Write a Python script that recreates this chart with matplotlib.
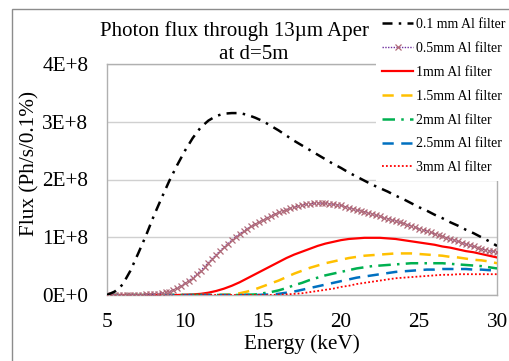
import numpy as np
import matplotlib
matplotlib.use("Agg")
import matplotlib.pyplot as plt
from matplotlib.patches import Rectangle

# ---------------- data ----------------
energy = [5.0, 5.5, 6.0, 6.5, 7.0, 7.5, 8.0, 8.5, 9.0, 9.5, 10.0, 10.5, 11.0, 11.5, 12.0,
          12.5, 13.0, 13.5, 14.0, 14.5, 15.0, 15.5, 16.0, 16.5, 17.0, 17.5, 18.0, 18.5, 19.0,
          19.5, 20.0, 20.5, 21.0, 21.5, 22.0, 22.5, 23.0, 23.5, 24.0, 24.5, 25.0, 25.5, 26.0,
          26.5, 27.0, 27.5, 28.0, 28.5, 29.0, 29.5, 30.0]

# flux in units of 1E+8 Ph/s/0.1%
al_0p1 = [0.0, 0.06, 0.18, 0.42, 0.72, 1.03, 1.37, 1.68, 1.98, 2.25, 2.5, 2.72, 2.9, 3.02, 3.1,
          3.14, 3.15, 3.15, 3.12, 3.07, 3.01, 2.93, 2.85, 2.76, 2.67, 2.59, 2.51, 2.43, 2.35,
          2.27, 2.2, 2.12, 2.05, 1.98, 1.91, 1.85, 1.79, 1.72, 1.66, 1.59, 1.52, 1.46, 1.39,
          1.33, 1.26, 1.2, 1.13, 1.07, 1.0, 0.93, 0.85]

energy_fine = [5.0, 5.25, 5.5, 5.75, 6.0, 6.25, 6.5, 6.75, 7.0, 7.25, 7.5, 7.75, 8.0, 8.25, 8.5,
               8.75, 9.0, 9.25, 9.5, 9.75, 10.0, 10.25, 10.5, 10.75, 11.0, 11.25, 11.5, 11.75,
               12.0, 12.25, 12.5, 12.75, 13.0, 13.25, 13.5, 13.75, 14.0, 14.25, 14.5, 14.75,
               15.0, 15.25, 15.5, 15.75, 16.0, 16.25, 16.5, 16.75, 17.0, 17.25, 17.5, 17.75,
               18.0, 18.25, 18.5, 18.75, 19.0, 19.25, 19.5, 19.75, 20.0, 20.25, 20.5, 20.75,
               21.0, 21.25, 21.5, 21.75, 22.0, 22.25, 22.5, 22.75, 23.0, 23.25, 23.5, 23.75,
               24.0, 24.25, 24.5, 24.75, 25.0, 25.25, 25.5, 25.75, 26.0, 26.25, 26.5, 26.75,
               27.0, 27.25, 27.5, 27.75, 28.0, 28.25, 28.5, 28.75, 29.0, 29.25, 29.5, 29.75, 30.0]
al_0p5 = [0, 0, 0, 0, 0, 0, 0, 0.003, 0.005, 0.007, 0.01, 0.015, 0.02, 0.025, 0.03,
          0.045, 0.06, 0.09, 0.12, 0.16, 0.2, 0.25, 0.3, 0.36, 0.42, 0.49, 0.56, 0.63,
          0.7, 0.765, 0.83, 0.89, 0.95, 1.005, 1.06, 1.105, 1.15, 1.19, 1.23, 1.265,
          1.3, 1.335, 1.37, 1.4, 1.43, 1.455, 1.48, 1.5, 1.52, 1.54, 1.56, 1.57,
          1.58, 1.585, 1.59, 1.59, 1.59, 1.58, 1.57, 1.56, 1.55, 1.53, 1.51, 1.49,
          1.47, 1.455, 1.44, 1.42, 1.4, 1.38, 1.36, 1.34, 1.32, 1.3, 1.28, 1.26,
          1.24, 1.22, 1.2, 1.175, 1.15, 1.13, 1.11, 1.085, 1.06, 1.04, 1.02, 0.995,
          0.97, 0.95, 0.93, 0.905, 0.88, 0.86, 0.84, 0.82, 0.8, 0.785, 0.77, 0.755, 0.74]

al_1p0 = [0, 0, 0, 0, 0, 0, 0, 0, 0, 0, 0.005, 0.01, 0.02, 0.04, 0.07,
          0.11, 0.16, 0.22, 0.29, 0.36, 0.43, 0.5, 0.57, 0.64, 0.7, 0.75, 0.8, 0.85, 0.89,
          0.92, 0.95, 0.97, 0.98, 0.99, 0.99, 0.99, 0.98, 0.97, 0.95, 0.93, 0.91, 0.89, 0.87,
          0.84, 0.82, 0.79, 0.76, 0.74, 0.71, 0.68, 0.65]
al_1p5 = [0, 0, 0, 0, 0, 0, 0, 0, 0, 0, 0, 0, 0, 0, 0,
          0.005, 0.01, 0.03, 0.06, 0.1, 0.15, 0.2, 0.25, 0.31, 0.37, 0.42, 0.47, 0.51, 0.55,
          0.58, 0.61, 0.64, 0.66, 0.68, 0.69, 0.7, 0.71, 0.72, 0.72, 0.72, 0.71, 0.7, 0.69,
          0.68, 0.66, 0.65, 0.63, 0.61, 0.6, 0.58, 0.55]
al_2p0 = [0, 0, 0, 0, 0, 0, 0, 0, 0, 0, 0, 0, 0, 0, 0,
          0, 0, 0, 0.005, 0.01, 0.03, 0.05, 0.08, 0.12, 0.17, 0.21, 0.26, 0.3, 0.34,
          0.37, 0.4, 0.43, 0.46, 0.48, 0.5, 0.51, 0.52, 0.53, 0.54, 0.55, 0.55, 0.55, 0.55,
          0.55, 0.54, 0.53, 0.52, 0.51, 0.5, 0.48, 0.46]
al_2p5 = [0, 0, 0, 0, 0, 0, 0, 0, 0, 0, 0, 0, 0, 0, 0,
          0, 0, 0, 0, 0, 0.005, 0.01, 0.02, 0.04, 0.06, 0.09, 0.12, 0.15, 0.18,
          0.21, 0.24, 0.27, 0.3, 0.32, 0.34, 0.36, 0.38, 0.4, 0.41, 0.42, 0.43, 0.44, 0.44,
          0.45, 0.45, 0.45, 0.45, 0.44, 0.44, 0.43, 0.42]
al_3p0 = [0, 0, 0, 0, 0, 0, 0, 0, 0, 0, 0, 0, 0, 0, 0,
          0, 0, 0, 0, 0, 0, 0, 0.005, 0.01, 0.02, 0.03, 0.05, 0.07, 0.09,
          0.11, 0.14, 0.16, 0.19, 0.21, 0.23, 0.25, 0.27, 0.29, 0.3, 0.31, 0.32, 0.33, 0.34,
          0.35, 0.35, 0.36, 0.36, 0.36, 0.36, 0.36, 0.36]

labels = ["0.1 mm Al filter", "0.5mm Al filter", "1mm Al filter", "1.5mm Al filter",
          "2mm Al filter", "2.5mm Al filter", "3mm Al filter"]

x_ticks = [5, 10, 15, 20, 25, 30]
y_ticks = [0, 1e8, 2e8, 3e8, 4e8]
y_tick_labels = ["0E+0", "1E+8", "2E+8", "3E+8", "4E+8"]

title_line1 = "Photon flux through 13\u00b5m Aper"
title_line2 = "at d=5m"
x_label = "Energy (keV)"
y_label = "Flux (Ph/s/0.1%)"

# ---------------- figure ----------------
plt.rcParams['font.family'] = ['Liberation Serif', 'DejaVu Serif']
W, H = 509, 361
fig = plt.figure(figsize=(W / 100, H / 100), dpi=100)
fig.patch.set_facecolor('white')

# outer chart-area frame
fig.patches.append(Rectangle((12 / W, -0.2), 1.5, 1 - 9 / H + 0.2, transform=fig.transFigure,
                             fill=False, edgecolor='#8c8c8c', linewidth=1.0, zorder=0))

ax = fig.add_axes([107 / W, 1 - 295 / H, (497 - 107) / W, (295 - 64) / H])
scale = 1e8
e = np.array(energy)
ef = np.array(energy_fine)

ax.plot(e, np.array(al_0p1) * scale, color='black', lw=1.8,
        dashes=(4, 2.5, 1, 2.5), label=labels[0], zorder=5)
ax.plot(ef, np.array(al_0p5) * scale, color='#7030a0', lw=1.0, ls=(0, (1, 1)),
        marker='x', markersize=4, markeredgewidth=0.9, markeredgecolor='#b06a78',
        label=labels[1], zorder=4)
ax.plot(e, np.array(al_1p0) * scale, color='#ff0000', lw=1.6, label=labels[2], zorder=3)
ax.plot(e, np.array(al_1p5) * scale, color='#ffc000', lw=1.8, dashes=(4.5, 3),
        label=labels[3], zorder=3)
ax.plot(e, np.array(al_2p0) * scale, color='#00b050', lw=1.8, dashes=(5, 2.5, 1, 2.5),
        label=labels[4], zorder=3)
ax.plot(e, np.array(al_2p5) * scale, color='#0070c0', lw=1.8, dashes=(4.5, 3),
        label=labels[5], zorder=3)
ax.plot(e, np.array(al_3p0) * scale, color='#ff0000', lw=1.3, ls=(0, (1, 1.2)),
        label=labels[6], zorder=3)

ax.set_xlim(5, 30)
ax.set_ylim(0, 4e8)
ax.set_xticks(x_ticks)
ax.set_xticklabels([str(t) for t in x_ticks])
ax.set_yticks(y_ticks)
ax.set_yticklabels(y_tick_labels)
ax.tick_params(axis='both', length=0, labelsize=15.3, colors='black')
ax.tick_params(axis='y', pad=13.5)
ax.tick_params(axis='x', pad=13)
ax.grid(axis='y', color='#d0d0d0', lw=1.0)
ax.set_axisbelow(True)
for s in ax.spines.values():
    s.set_color('#b0b0b0')
    s.set_linewidth(1.0)

ax.set_xlabel(x_label, fontsize=15.3)
ax.xaxis.set_label_coords(0.5, -(344 - 295) / 231)
ax.xaxis.label.set_va('center')
ax.set_ylabel(y_label, fontsize=15.3)
ax.yaxis.set_label_coords(-(107 - 30) / 390, (295 - 164) / 231)
ax.yaxis.label.set_va('center')

fig.text(100 / W, 1 - 36 / H, title_line1, fontsize=15.0, ha='left', va='baseline')
fig.text(254 / W, 1 - 59 / H, title_line2, fontsize=15.0, ha='center', va='baseline')

leg = fig.legend(loc='upper left', bbox_to_anchor=(376 / W, 1 - 12 / H),
                 bbox_transform=fig.transFigure, fontsize=10.0, frameon=True,
                 fancybox=False, edgecolor='none', facecolor='white', framealpha=1,
                 handlelength=2.2, handletextpad=0.2, labelspacing=0.78,
                 borderpad=0.45, borderaxespad=0, markerscale=1.0)
leg.set_zorder(10)

fig.savefig("out.png", dpi=100, facecolor='white')
